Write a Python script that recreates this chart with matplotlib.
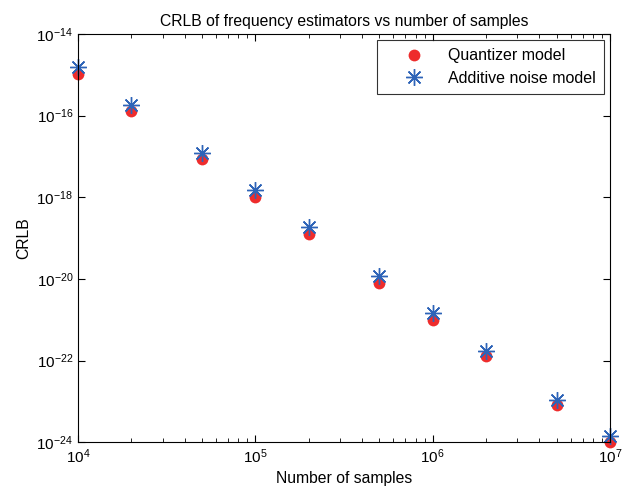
import math
import matplotlib
matplotlib.use("Agg")
import matplotlib.pyplot as plt
from matplotlib.ticker import FixedLocator, NullLocator, FuncFormatter

plt.rcParams['font.family'] = ['Liberation Sans', 'DejaVu Sans']
plt.rcParams['mathtext.fontset'] = 'custom'
plt.rcParams['mathtext.rm'] = 'Liberation Sans'
plt.rcParams['mathtext.default'] = 'regular'
plt.rcParams['axes.unicode_minus'] = False

# Antal samples og CRLB-værdier
n_samples = [1e4, 2e4, 5e4, 1e5, 2e5, 5e5, 1e6, 2e6, 5e6, 1e7]
crlb_quantizer = [1.07e-15, 1.33e-16, 8.5e-18, 1.02e-18, 1.26e-19,
                  8.1e-21, 1.0e-21, 1.26e-22, 8.1e-24, 1.0e-24]
crlb_additive = [1.55e-15, 1.87e-16, 1.2e-17, 1.55e-18, 1.82e-19,
                 1.18e-20, 1.45e-21, 1.74e-22, 1.1e-23, 1.38e-24]
y_ticks = [1e-24, 1e-22, 1e-20, 1e-18, 1e-16, 1e-14]
x_ticks = [1e4, 1e5, 1e6, 1e7]


def pow10(v, pos):
    return r'$10^{%d}$' % int(round(math.log10(v)))


fig = plt.figure(figsize=(6.25, 4.94), dpi=100)
ax = fig.add_axes([0.125, 0.105, 0.851, 0.826])

ax.loglog(n_samples, crlb_quantizer, 'o', color='#ee2c2c', markersize=8.5,
          markeredgewidth=0, label='Quantizer model', clip_on=False)
ax.loglog(n_samples, crlb_additive, color='#2e64b8', linestyle='none',
          markersize=12, marker=(8, 2, 0), markeredgewidth=1,
          label='Additive noise model', clip_on=False)

ax.set_xlim(1e4, 1e7)
ax.set_ylim(1e-24, 1e-14)
ax.xaxis.set_major_locator(FixedLocator(x_ticks))
ax.yaxis.set_major_locator(FixedLocator(y_ticks))
ax.yaxis.set_minor_locator(NullLocator())
ax.xaxis.set_major_formatter(FuncFormatter(pow10))
ax.yaxis.set_major_formatter(FuncFormatter(pow10))

ax.tick_params(which='both', direction='in', top=True, right=True, labelsize=11)
ax.tick_params(which='major', length=5)
ax.tick_params(which='minor', length=3)

ax.set_xlabel("Number of samples", fontsize=11.3)
ax.set_ylabel("CRLB", fontsize=11.3)
ax.set_title("CRLB of frequency estimators vs number of samples", fontsize=11.3)

leg = ax.legend(loc='upper right', fancybox=False, edgecolor='black',
                fontsize=11.5, borderaxespad=0.35, borderpad=0.55,
                labelspacing=0.45, handlelength=3.6, handletextpad=0.3)
leg.get_frame().set_linewidth(0.8)

fig.savefig("out.png")
